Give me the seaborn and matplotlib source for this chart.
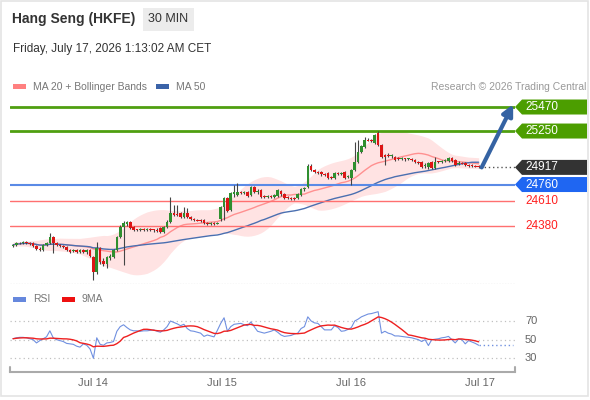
import numpy as np
import pandas as pd
import seaborn as sns
import matplotlib.pyplot as plt
import matplotlib.transforms as mtransforms
from matplotlib.patches import Polygon, Rectangle

# 30 min candles, Hang Seng futures
opens = [24197, 24206, 24224, 24224, 24233, 24224, 24224, 24197, 24169, 24160,
         24206, 24224, 24279, 24224, 24206, 24197, 24188, 24160, 24151, 24160,
         24142, 24160, 24142, 24160, 24096, 23959, 24178, 24059, 24032, 24087,
         24096, 24160, 24279, 24371, 24398, 24417, 24371, 24343, 24343, 24352,
         24343, 24352, 24343, 24343, 24362, 24325, 24371, 24417, 24499, 24490,
         24499, 24462, 24499, 24462, 24444, 24435, 24435, 24435, 24407, 24398,
         24407, 24398, 24440, 24554, 24636, 24527, 24673, 24664, 24691, 24682,
         24691, 24664, 24737, 24691, 24710, 24655, 24646, 24655, 24646, 24655,
         24701, 24673, 24646, 24636, 24636, 24636, 24664, 24719, 24737, 24930,
         24893, 24875, 24875, 24856, 24865, 24829, 24820, 24865, 24860, 24875,
         24829, 24820, 24893, 24966, 25058, 25104, 25168, 25168, 25140, 25232,
         25122, 25030, 25030, 25021, 25012, 25003, 24994, 24994, 24994, 24994,
         24985, 24966, 24966, 24930, 24920, 24966, 24911, 24966, 24966, 24975,
         24975, 25003, 24985, 24948, 24957, 24957, 24939, 24935, 24930, 24930]
highs = [24215, 24233, 24233, 24243, 24243, 24233, 24233, 24206, 24188, 24215,
         24233, 24316, 24288, 24233, 24215, 24206, 24197, 24169, 24169, 24169,
         24169, 24169, 24169, 24169, 24105, 24233, 24188, 24087, 24105, 24123,
         24169, 24288, 24389, 24426, 24426, 24426, 24380, 24352, 24362, 24362,
         24362, 24362, 24352, 24362, 24371, 24380, 24435, 24646, 24572, 24572,
         24508, 24554, 24545, 24472, 24453, 24444, 24444, 24444, 24417, 24417,
         24417, 24417, 24563, 24646, 24646, 24691, 24756, 24774, 24701, 24701,
         24701, 24746, 24746, 24719, 24719, 24664, 24664, 24664, 24673, 24719,
         24710, 24682, 24655, 24646, 24646, 24682, 24728, 24737, 24948, 24948,
         24902, 24884, 24884, 24865, 24875, 24838, 24875, 24875, 24875, 24884,
         24847, 24902, 25149, 25168, 25122, 25195, 25186, 25177, 25223, 25250,
         25131, 25039, 25049, 25039, 25021, 25012, 25012, 25003, 25003, 25003,
         24994, 24975, 24975, 24957, 24966, 24975, 25012, 24975, 24985, 24994,
         25012, 25012, 24994, 24975, 24966, 24966, 24948, 24948, 24939, 24939]
lows = [24188, 24197, 24215, 24215, 24215, 24206, 24188, 24160, 24151, 24151,
        24197, 24215, 24133, 24197, 24188, 24178, 24151, 24133, 24142, 24133,
        24133, 24133, 24123, 24096, 23885, 23940, 24032, 24014, 23995, 24069,
        24087, 24151, 24270, 24023, 24380, 24352, 24334, 24334, 24334, 24334,
        24334, 24334, 24325, 24325, 24316, 24316, 24362, 24407, 24472, 24472,
        24453, 24453, 24453, 24435, 24426, 24426, 24417, 24398, 24389, 24389,
        24389, 24398, 24430, 24435, 24508, 24517, 24646, 24655, 24673, 24673,
        24646, 24655, 24682, 24673, 24636, 24636, 24636, 24636, 24636, 24646,
        24655, 24627, 24627, 24618, 24618, 24627, 24655, 24701, 24728, 24884,
        24865, 24856, 24838, 24838, 24810, 24810, 24810, 24847, 24847, 24810,
        24820, 24756, 24884, 24957, 25049, 25094, 25159, 25149, 25131, 25113,
        25003, 24939, 25012, 25003, 24975, 24985, 24985, 24975, 24985, 24975,
        24957, 24948, 24911, 24911, 24902, 24902, 24902, 24957, 24960, 24970,
        24966, 24966, 24930, 24939, 24948, 24930, 24920, 24920, 24920, 24911]
closes = [24206, 24224, 24220, 24233, 24224, 24215, 24197, 24169, 24160, 24206,
          24224, 24279, 24224, 24206, 24197, 24188, 24160, 24142, 24160, 24142,
          24160, 24142, 24160, 24105, 23959, 24178, 24050, 24032, 24096, 24105,
          24160, 24279, 24371, 24407, 24417, 24362, 24343, 24340, 24352, 24343,
          24352, 24343, 24340, 24334, 24325, 24371, 24417, 24499, 24481, 24481,
          24462, 24499, 24462, 24444, 24435, 24430, 24426, 24407, 24398, 24407,
          24398, 24407, 24554, 24636, 24517, 24682, 24691, 24691, 24682, 24691,
          24655, 24737, 24691, 24701, 24646, 24646, 24655, 24646, 24664, 24710,
          24673, 24636, 24636, 24627, 24632, 24673, 24719, 24728, 24930, 24893,
          24875, 24865, 24856, 24847, 24820, 24820, 24865, 24856, 24868, 24820,
          24838, 24893, 24966, 25058, 25113, 25168, 25160, 25159, 25214, 25122,
          25012, 25012, 25025, 25025, 24985, 24994, 25003, 24990, 24998, 24985,
          24966, 24957, 24920, 24939, 24957, 24911, 24966, 24962, 24975, 24985,
          25003, 24975, 24939, 24957, 24952, 24939, 24930, 24928, 24925, 24917]
rsi = [51, 52, 52.5, 52.5, 52, 51, 50, 46.5, 49, 51,
       53, 59.5, 52, 50, 49, 48, 46, 45.5, 45, 43,
       42, 45.5, 44, 40, 30, 52, 45, 44, 46.5, 47,
       48, 59, 64, 66, 63, 60.5, 59.5, 59.5, 59, 59.5,
       59.5, 60, 60.5, 59, 58, 60.5, 64, 70, 68.5, 67,
       65, 66.5, 62, 59.5, 59, 58, 57, 53.5, 55, 54,
       53, 60, 67.5, 73.5, 59, 64, 66.5, 67, 67.5, 66,
       65, 69, 64, 59, 58, 57, 58, 59, 60.5, 58,
       55, 53.5, 54, 54.5, 56, 57, 62, 64, 74.5, 70,
       68, 67.5, 64, 60.5, 60.5, 60.5, 65, 63, 59, 59.5,
       61, 63, 70, 72, 74.5, 76, 77.5, 78, 79, 80,
       57, 59, 57, 56, 54, 54, 53.5, 53, 52.5, 52,
       51, 50, 48, 50, 43.7, 50, 50.5, 51, 52, 52.5,
       53.5, 50, 46.5, 50.7, 50, 45.5, 49, 47.5, 46, 44]

day_ticks = [23.9, 62.4, 100.9, 139.4]
day_labels = ['Jul 14', 'Jul 15', 'Jul 16', 'Jul 17']
resistances = [25470, 25250]
pivot = 24760
supports = [24610, 24380]
rsi_levels = [70, 50, 30]

df = pd.DataFrame({'open': opens, 'high': highs, 'low': lows, 'close': closes, 'rsi': rsi})
df['bar'] = np.arange(len(df))
df['ma20'] = df['close'].rolling(20, min_periods=1).mean()
df['ma50'] = df['close'].rolling(50, min_periods=1).mean()
sd = df['close'].rolling(20, min_periods=5).std().bfill()
df['bb_up'] = (df['ma20'] + 2 * sd).rolling(7, center=True, min_periods=1).mean()
df['bb_lo'] = (df['ma20'] - 2 * sd).rolling(7, center=True, min_periods=1).mean()
df['rsi_ma'] = df['rsi'].rolling(9, min_periods=1).mean()
last = closes[-1]

sns.set_theme(style='white')
plt.rcParams['font.family'] = ['Liberation Sans', 'DejaVu Sans']

W, H = 590, 400
fig = plt.figure(figsize=(5.9, 4.0), dpi=100)
fx = lambda px: px / W
fy = lambda py: 1 - py / H

xlo, xhi = -0.9, 149.85
ax = fig.add_axes([fx(10), fy(284), fx(515) - fx(10), fy(95) - fy(284)])
ax.set_xlim(xlo, xhi)
ax.set_ylim(23849, 25580)
for s in ax.spines.values():
    s.set_visible(False)
ax.set_xticks([])
ax.set_yticks([])
ax.axhline(23849, color='#dddddd', lw=1, ls=(0, (1, 1)))

# bollinger + moving averages
ax.fill_between(df['bar'], df['bb_lo'], df['bb_up'], color='#ffe3e3', lw=0, zorder=1)
sns.lineplot(data=df, x='bar', y='ma20', ax=ax, color='#ff9090', lw=1, zorder=2)
sns.lineplot(data=df, x='bar', y='ma50', ax=ax, color='#4a6fb0', lw=1, zorder=2)

# levels
for lv in resistances:
    ax.axhline(lv, color='#4f9f10', lw=2, zorder=3)
ax.axhline(pivot, color='#5a8ae6', lw=1.5, zorder=3)
for lv in supports:
    ax.axhline(lv, color='#ff7070', lw=1, zorder=3)
ax.hlines(last, len(df) - 0.5, xhi, colors='#555555', lw=1, linestyles=(0, (1, 2)), zorder=3)

# candles
up = df['close'] >= df['open']
body = np.maximum((df['close'] - df['open']).abs(), 9)
ax.vlines(df['bar'], df['low'], df['high'], color='#444444', lw=0.8, zorder=4)
ax.bar(df['bar'][up], body[up], bottom=df['open'][up], width=0.78, color='#2f8f2f',
       edgecolor='none', linewidth=0, zorder=5)
ax.bar(df['bar'][~up], body[~up], bottom=df['close'][~up], width=0.78, color='#dd1515',
       edgecolor='none', linewidth=0, zorder=5)

# arrow to target
ax.annotate('', xy=(149.3, 25495), xytext=(139.9, last),
            arrowprops=dict(arrowstyle='-|>', color='#3563a3', lw=3, mutation_scale=16,
                            shrinkA=0, shrinkB=0), zorder=6)

# right hand labels
blend = mtransforms.blended_transform_factory(fig.transFigure, ax.transData)
hh = 7.5 * (25580 - 23849) / 189
tags = [(25470, '#4c9e00'), (25250, '#4c9e00'), (last, '#333333'), (pivot, '#1f66f2')]
for val, col in tags:
    poly = Polygon([(fx(515), val), (fx(522), val + hh), (fx(587), val + hh),
                    (fx(587), val - hh), (fx(522), val - hh)], closed=True,
                   transform=blend, facecolor=col, edgecolor='none', clip_on=False)
    ax.add_patch(poly)
    ax.text(fx(525), val, str(val), transform=blend, ha='left', va='center',
            color='white', fontsize=8.5, clip_on=False)
for val in supports:
    ax.text(fx(525), val, str(val), transform=blend, ha='left', va='center',
            color='#ff2020', fontsize=8.5, clip_on=False)

# RSI panel
rax = fig.add_axes([fx(10), fy(372), fx(515) - fx(10), fy(305) - fy(372)])
rax.set_xlim(xlo, xhi)
rax.set_ylim(15.3, 87.2)
for s in ['top', 'left', 'right']:
    rax.spines[s].set_visible(False)
rax.spines['bottom'].set_color('#aaaaaa')
rax.spines['bottom'].set_linewidth(1.5)
rax.plot([0, 0], [0, 0.08], transform=rax.transAxes, color='#aaaaaa', lw=1.5, clip_on=False)
rax.plot([1, 1], [0, 0.08], transform=rax.transAxes, color='#aaaaaa', lw=1.5, clip_on=False)
rax.hlines(rsi_levels, xlo, xhi, colors='#c0c0c0', lw=0.9, linestyles=(0, (1, 2.5)))
sns.lineplot(data=df, x='bar', y='rsi', ax=rax, color='#7090e0', lw=0.8)
sns.lineplot(data=df, x='bar', y='rsi_ma', ax=rax, color='#ee2020', lw=1)
rax.hlines(rsi[-1], len(df) - 1, 149.2, colors='#7090e0', lw=1, linestyles=(0, (1, 2)))
rax.set_yticks([])
rax.set_xlabel('')
rax.set_ylabel('')
rax.set_xticks(day_ticks)
rax.set_xticklabels(day_labels, fontsize=8, color='#666666')
rax.tick_params(axis='x', length=0, pad=4)
rblend = mtransforms.blended_transform_factory(fig.transFigure, rax.transData)
for lv in rsi_levels:
    rax.text(fx(525), lv, str(lv), transform=rblend, ha='left', va='center',
             color='#666666', fontsize=8, clip_on=False)
ax.set_xlabel('')
ax.set_ylabel('')

# header
fig.text(fx(12), fy(19), 'Hang Seng (HKFE)', fontsize=10, fontweight='bold',
         color='#333333', ha='left', va='center')
fig.patches.append(Rectangle((fx(143), fy(31)), fx(194) - fx(143), fy(8) - fy(31),
                             transform=fig.transFigure, facecolor='#ececec', edgecolor='none'))
fig.text(fx(168.5), fy(19.5), '30 MIN', fontsize=9, color='#333333', ha='center', va='center')
fig.text(fx(13), fy(49), 'Friday, July 17, 2026 1:13:02 AM CET', fontsize=8.5,
         color='#333333', ha='left', va='center')

# legends
def legend_item(x0, y, color, label):
    fig.patches.append(Rectangle((fx(x0), fy(y + 2.5)), fx(13), 5 / H,
                                 transform=fig.transFigure, facecolor=color, edgecolor='none'))
    fig.text(fx(x0 + 20), fy(y), label, fontsize=7.5, color='#777777', ha='left', va='center')

legend_item(13, 86.5, '#ff8080', 'MA 20 + Bollinger Bands')
legend_item(156, 86.5, '#3b63a8', 'MA 50')
fig.text(fx(586), fy(86.5), 'Research \u00a9 2026 Trading Central', fontsize=7.5,
         color='#999999', ha='right', va='center')
legend_item(13, 299, '#6688dd', 'RSI')
legend_item(62, 299, '#ee1111', '9MA')

fig.patches.append(Rectangle((fx(1), fy(396)), fx(587), 395 / H, transform=fig.transFigure,
                             facecolor='none', edgecolor='#e4e4e4', lw=1.2))

fig.savefig('out.png', dpi=100)
